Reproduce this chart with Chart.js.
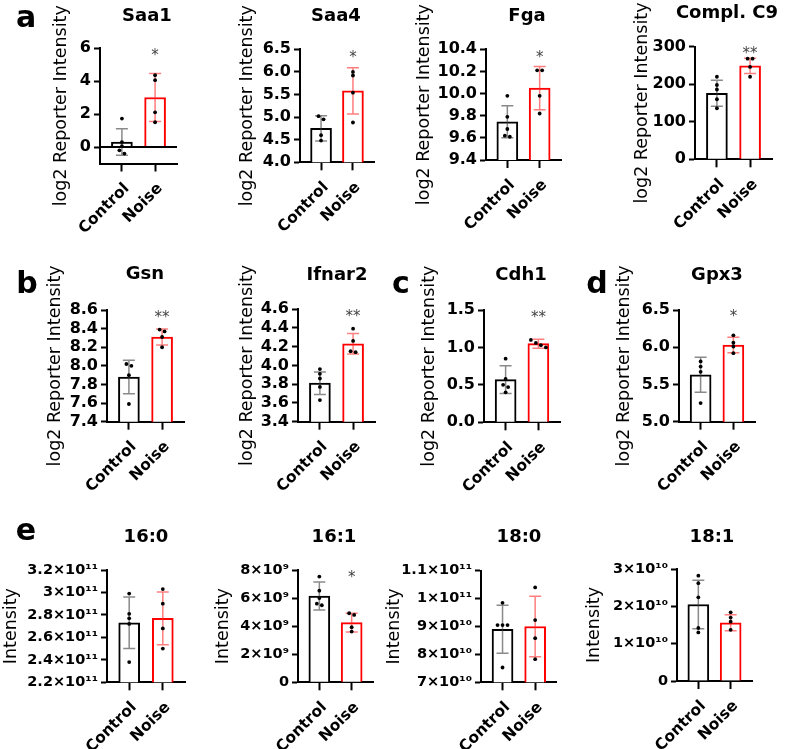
<!DOCTYPE html>
<html><head><meta charset="utf-8">
<script src="https://cdn.jsdelivr.net/npm/chart.js@4.4.1/dist/chart.umd.min.js"></script>
<style>
html,body{margin:0;padding:0;background:#fff;}
#fig{position:relative;width:787px;height:749px;overflow:hidden;background:#fff;}
#fig canvas{position:absolute;}
.t{position:absolute;white-space:nowrap;line-height:1;font-family:'DejaVu Sans',sans-serif;color:#000;}
</style></head><body><div id="fig"></div>
<script>
// ---------------- DATA ----------------
const categories = ['Control', 'Noise'];
const panelTitles = ['Saa1', 'Saa4', 'Fga', 'Compl. C9', 'Gsn', 'Ifnar2', 'Cdh1', 'Gpx3', '16:0', '16:1', '18:0', '18:1'];
const yAxisTitles = ['log2 Reporter Intensity', 'log2 Reporter Intensity', 'log2 Reporter Intensity', 'log2 Reporter Intensity',
  'log2 Reporter Intensity', 'log2 Reporter Intensity', 'log2 Reporter Intensity', 'log2 Reporter Intensity',
  'Intensity', 'Intensity', 'Intensity', 'Intensity'];
const panelLetters = ['a', 'b', 'c', 'd', 'e'];

const yMin = [-1, 4.0, 9.4, 0, 7.4, 3.4, 0, 5.0, 2.2e11, 0, 7e10, 0];
const yMax = [6, 6.5, 10.4, 300, 8.6, 4.6, 1.5, 6.5, 3.2e11, 8e9, 1.1e11, 3e10];
const yTicks = [
  [0, 2, 4, 6],
  [4.0, 4.5, 5.0, 5.5, 6.0, 6.5],
  [9.4, 9.6, 9.8, 10.0, 10.2, 10.4],
  [0, 100, 200, 300],
  [7.4, 7.6, 7.8, 8.0, 8.2, 8.4, 8.6],
  [3.4, 3.6, 3.8, 4.0, 4.2, 4.4, 4.6],
  [0, 0.5, 1.0, 1.5],
  [5.0, 5.5, 6.0, 6.5],
  [2.2e11, 2.4e11, 2.6e11, 2.8e11, 3.0e11, 3.2e11],
  [0, 2e9, 4e9, 6e9, 8e9],
  [7e10, 8e10, 9e10, 1e11, 1.1e11],
  [0, 1e10, 2e10, 3e10]
];
const yTickLabels = [
  ['0', '2', '4', '6'],
  ['4.0', '4.5', '5.0', '5.5', '6.0', '6.5'],
  ['9.4', '9.6', '9.8', '10.0', '10.2', '10.4'],
  ['0', '100', '200', '300'],
  ['7.4', '7.6', '7.8', '8.0', '8.2', '8.4', '8.6'],
  ['3.4', '3.6', '3.8', '4.0', '4.2', '4.4', '4.6'],
  ['0.0', '0.5', '1.0', '1.5'],
  ['5.0', '5.5', '6.0', '6.5'],
  ['2.2×10¹¹', '2.4×10¹¹', '2.6×10¹¹', '2.8×10¹¹', '3×10¹¹', '3.2×10¹¹'],
  ['0', '2×10⁹', '4×10⁹', '6×10⁹', '8×10⁹'],
  ['7×10¹⁰', '8×10¹⁰', '9×10¹⁰', '1×10¹¹', '1.1×10¹¹'],
  ['0', '1×10¹⁰', '2×10¹⁰', '3×10¹⁰']
];

const controlMeans = [0.30, 4.75, 9.745, 176, 7.88, 3.81, 0.57, 5.63, 2.73e11, 6.15e9, 8.9e10, 2.05e10];
const controlSD    = [0.80, 0.28, 0.145, 34.5, 0.18, 0.12, 0.185, 0.235, 0.23e11, 1.0e9, 0.86e10, 0.65e10];
const noiseMeans   = [3.0, 5.58, 10.05, 249, 8.31, 4.23, 1.05, 6.03, 2.77e11, 4.25e9, 9.0e10, 1.56e10];
const noiseSD      = [1.45, 0.51, 0.195, 20.5, 0.085, 0.11, 0.06, 0.105, 0.235e11, 0.67e9, 1.085e10, 0.215e10];

const controlPoints = [
  [1.72, 0.3, 0.05, -0.2, -0.4],
  [5.02, 4.95, 4.6, 4.48],
  [9.98, 9.79, 9.68, 9.62, 9.61],
  [220, 198, 186, 160, 136],
  [8.02, 8.00, 7.90, 7.59],
  [3.96, 3.91, 3.86, 3.77, 3.63],
  [0.85, 0.58, 0.5, 0.47, 0.40],
  [5.81, 5.74, 5.67, 5.25],
  [2.99e11, 2.81e11, 2.77e11, 2.72e11, 2.38e11],
  [7.53e9, 6.53e9, 6.0e9, 5.6e9, 5.49e9],
  [9.85e10, 9.05e10, 9.05e10, 9.05e10, 7.53e10],
  [2.82e10, 2.62e10, 2.24e10, 1.42e10, 1.30e10]
];
const noisePoints = [
  [4.35, 4.05, 2.1, 1.5],
  [6.0, 5.92, 5.54, 4.88],
  [10.21, 10.21, 9.98, 9.82],
  [268, 268, 246, 220],
  [8.39, 8.37, 8.31, 8.20],
  [4.39, 4.26, 4.15, 4.14],
  [1.10, 1.06, 1.03, 1.0],
  [6.16, 6.06, 6.01, 5.92],
  [3.03e11, 2.90e11, 2.68e11, 2.50e11],
  [4.92e9, 4.80e9, 3.92e9, 3.61e9],
  [10.4e10, 9.23e10, 8.58e10, 7.83e10],
  [1.84e10, 1.70e10, 1.59e10, 1.37e10]
];
const significance = ['*', '*', '*', '**', '**', '**', '**', '*', '', '*', '', ''];
const significanceY = [5.8, 6.41, 10.36, 293, 8.56, 4.56, 1.45, 6.46, null, 7.7e9, null, null];

// ---------------- LAYOUT (pixel geometry, styles) ----------------
const geom = [
  {axis: 100, top: 48,    bottom: 163.5, right: 177,   ylab: 61},
  {axis: 300, top: 49.3,  bottom: 162.3, right: 374,   ylab: 247},
  {axis: 486, top: 49.3,  bottom: 160,   right: 561,   ylab: 424},
  {axis: 695, top: 46.7,  bottom: 159.3, right: 772,   ylab: 642},
  {axis: 107, top: 310,   bottom: 421.7, right: 184,   ylab: 55},
  {axis: 298, top: 309,   bottom: 421.7, right: 375,   ylab: 247},
  {axis: 484, top: 310,   bottom: 422.3, right: 560,   ylab: 429},
  {axis: 679, top: 310,   bottom: 421.7, right: 755,   ylab: 624},
  {axis: 107, top: 570,   bottom: 682.3, right: 185,   ylab: 11},
  {axis: 298, top: 570,   bottom: 682.3, right: 373,   ylab: 223},
  {axis: 481, top: 570.7, bottom: 682.3, right: 556.7, ylab: 394},
  {axis: 677, top: 569,   bottom: 681,   right: 752,   ylab: 594}
];
const titlePos = [
  [147, 21.7], [336, 21.7], [527, 21.7], [727, 18.5],
  [145, 279.5], [337, 280], [521, 280], [717, 280],
  [146, 542.5], [334, 542], [519, 542], [712, 542]
];
const letterPos = [[26, 27], [27, 293], [401, 293], [597, 293], [26, 540]];

const fig = document.getElementById('fig');
const FONT = "'DejaVu Sans', sans-serif";
Chart.defaults.font.family = FONT;
Chart.defaults.color = '#000';

function addText(txt, cx, baseline, size, weight) {
  const d = document.createElement('div');
  d.className = 't';
  d.textContent = txt;
  d.style.fontSize = size + 'px';
  d.style.fontWeight = weight;
  d.style.top = (baseline - 0.846 * size) + 'px';
  d.style.left = cx + 'px';
  d.style.transform = 'translateX(-50%)';
  fig.appendChild(d);
}

function swarmOffsets(pix, step) {
  const idx = pix.map((p, i) => i).sort((a, b) => pix[a] - pix[b]);
  const off = new Array(pix.length).fill(0);
  let cluster = [idx[0]];
  const flush = () => cluster.forEach((k, j) => { off[k] = (j - (cluster.length - 1) / 2) * step; });
  for (let j = 1; j < idx.length; j++) {
    if (pix[idx[j]] - pix[cluster[cluster.length - 1]] < 3.5) cluster.push(idx[j]);
    else { flush(); cluster = [idx[j]]; }
  }
  flush();
  return off;
}

const overlayPlugin = {
  id: 'overlay',
  afterDatasetsDraw(chart) {
    const i = chart.options.plugins.overlay.panel;
    const ctx = chart.ctx;
    const xs = chart.scales.x, ys = chart.scales.y;
    const ca = chart.chartArea;
    ctx.save();
    if (yMin[i] < 0) {
      const y0 = ys.getPixelForValue(0);
      ctx.strokeStyle = '#000'; ctx.lineWidth = 2;
      ctx.beginPath(); ctx.moveTo(ca.left, y0); ctx.lineTo(ca.right, y0); ctx.stroke();
    }
    const groups = [
      {m: controlMeans[i], sd: controlSD[i], pts: controlPoints[i], col: 'rgba(60,60,60,0.6)'},
      {m: noiseMeans[i], sd: noiseSD[i], pts: noisePoints[i], col: 'rgba(255,40,40,0.6)'}
    ];
    groups.forEach((g, k) => {
      const cx = xs.getPixelForValue(k);
      const yt = ys.getPixelForValue(g.m + g.sd);
      const yb = ys.getPixelForValue(g.m - g.sd);
      ctx.strokeStyle = g.col; ctx.lineWidth = 1.5;
      ctx.beginPath();
      ctx.moveTo(cx, yt); ctx.lineTo(cx, yb);
      ctx.moveTo(cx - 6, yt); ctx.lineTo(cx + 6, yt);
      ctx.moveTo(cx - 6, yb); ctx.lineTo(cx + 6, yb);
      ctx.stroke();
      const pix = g.pts.map(v => ys.getPixelForValue(v));
      const off = swarmOffsets(pix, 5);
      ctx.fillStyle = '#000';
      pix.forEach((py, j) => {
        ctx.beginPath(); ctx.arc(cx + off[j], py, 1.9, 0, Math.PI * 2); ctx.fill();
      });
    });
    if (significance[i]) {
      const sx = xs.getPixelForValue(1);
      const sy = ys.getPixelForValue(significanceY[i]);
      ctx.fillStyle = '#444';
      ctx.font = '15px ' + FONT;
      ctx.textAlign = 'center';
      ctx.textBaseline = 'alphabetic';
      ctx.fillText(significance[i], sx, sy + 0.55 * 15);
    }
    ctx.restore();
  }
};

function makePanel(i) {
  const G = geom[i];
  const titleSize = 17.5;
  const lh = titleSize * 1.2;
  const scaleLeft = G.ylab - lh / 2;
  const cLeft = Math.floor(scaleLeft) - 4;
  const cTop = Math.floor(G.top) - 70;
  const cRight = Math.ceil(G.right) + 8;
  const cBottom = Math.ceil(G.bottom) + 95;
  const cv = document.createElement('canvas');
  cv.width = cRight - cLeft; cv.height = cBottom - cTop;
  cv.style.left = cLeft + 'px'; cv.style.top = cTop + 'px';
  cv.style.width = cv.width + 'px'; cv.style.height = cv.height + 'px';
  fig.appendChild(cv);
  const tickSize = i < 8 ? 16 : 14.5;
  new Chart(cv.getContext('2d'), {
    type: 'bar',
    data: {
      datasets: [{
        data: categories.map((c, k) => ({x: k, y: k === 0 ? controlMeans[i] : noiseMeans[i]})),
        backgroundColor: '#ffffff',
        borderColor: ['#000000', '#ff0000'],
        borderWidth: 2,
        barThickness: 21
      }]
    },
    options: {
      responsive: false, animation: false, devicePixelRatio: 1,
      layout: {padding: {left: scaleLeft - cLeft, top: G.top - cTop, right: cRight - G.right, bottom: 0}},
      plugins: {legend: {display: false}, tooltip: {enabled: false}, overlay: {panel: i}},
      scales: {
        x: {
          type: 'linear', min: -0.66, max: 1.66, offset: false,
          afterBuildTicks: s => { s.ticks = categories.map((c, k) => ({value: k})); },
          afterFit: s => { s.height = cBottom - G.bottom; s.paddingLeft = 0; s.paddingRight = 0; s.paddingTop = 0; s.paddingBottom = 0; },
          ticks: {autoSkip: false, minRotation: 45, maxRotation: 45, padding: 8, labelOffset: 5, color: '#000',
            font: {size: 15.5, weight: 'bold', family: FONT},
            callback: (v, idx) => categories[idx]},
          grid: {display: true, offset: false, drawOnChartArea: false, drawTicks: true, tickLength: 8, tickWidth: 2, tickColor: '#000', color: '#000'},
          border: {display: true, color: '#000', width: 2}
        },
        y: {
          min: yMin[i], max: yMax[i],
          afterBuildTicks: s => { s.ticks = yTicks[i].map(v => ({value: v})); },
          afterFit: s => { s.width = G.axis - scaleLeft; s.paddingLeft = 0; s.paddingRight = 0; s.paddingTop = 0; s.paddingBottom = 0; },
          ticks: {autoSkip: false, padding: 3, color: '#000', font: {size: tickSize, weight: 'bold', family: FONT},
            callback: (v, idx) => yTickLabels[i][idx]},
          grid: {display: true, drawOnChartArea: false, drawTicks: true, tickLength: 6, tickWidth: 2, tickColor: '#000', color: '#000'},
          border: {display: true, color: '#000', width: 2},
          title: {display: true, text: yAxisTitles[i], color: '#000', padding: 0, font: {size: titleSize, weight: 'normal', family: FONT}}
        }
      }
    },
    plugins: [overlayPlugin]
  });
}

for (let i = 0; i < panelTitles.length; i++) makePanel(i);
panelTitles.forEach((t, i) => addText(t, titlePos[i][0], titlePos[i][1], 18, 'bold'));
panelLetters.forEach((t, i) => addText(t, letterPos[i][0], letterPos[i][1], 30, 'bold'));
</script>
</body></html>
